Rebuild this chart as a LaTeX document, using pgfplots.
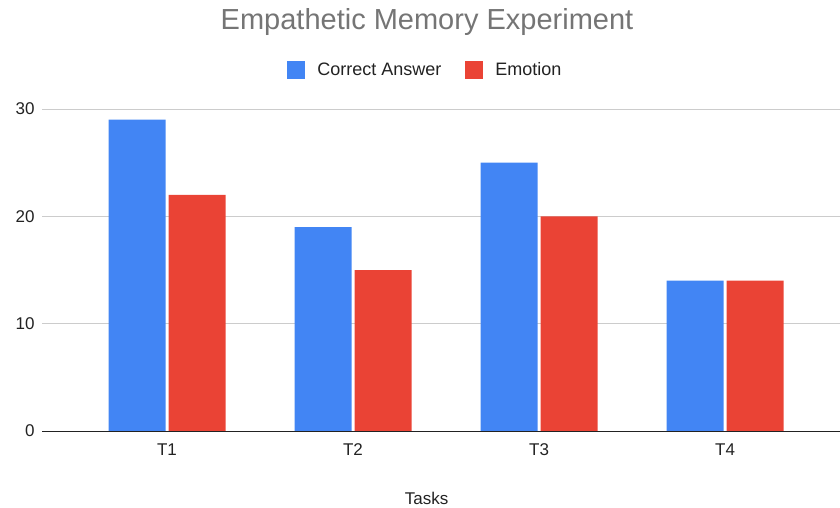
\documentclass[border=0pt]{standalone}
\usepackage{pgfplots}
\pgfplotsset{compat=1.18}
\usepackage{fontspec}
\setmainfont{Liberation Sans}
\definecolor{gblue}{HTML}{4285F4}
\definecolor{gred}{HTML}{EA4335}
\definecolor{ggrid}{HTML}{CCCCCC}
\definecolor{gtitle}{HTML}{757575}
\definecolor{gtext}{HTML}{222222}
\begin{document}
\begin{tikzpicture}
\useasboundingbox (0,0) rectangle (840pt,507pt);
\begin{axis}[
  at={(42pt,76pt)}, anchor=south west,
  scale only axis, width=798pt, height=322pt,
  ymin=0, ymax=30, xmin=-0.672, xmax=3.618,
  ybar, bar width=57pt,
  xtick=data, xticklabels={T1,T2,T3,T4},
  ytick={0,10,20,30},
  ymajorgrids, grid style={ggrid, line width=0.8pt},
  axis line style={draw=none},
  major tick length=0pt,
  tick label style={font=\fontsize{17}{19}\selectfont, text=gtext},
  /pgf/number format/assume math mode=true,
  yticklabel style={anchor=east, xshift=-4pt},
  xticklabel style={anchor=center, yshift=-19pt},
  xlabel={Tasks},
  xlabel style={at={(axis description cs:0.482,0)}, anchor=center, yshift=-67pt, font=\fontsize{17}{19}\selectfont, text=gtext},
  legend style={at={(rel axis cs:0.4805,1.121)}, anchor=center, draw=none, fill=none, legend columns=2,
    font=\fontsize{18}{20}\selectfont, text=gtext,
    /tikz/every odd column/.append style={column sep=10pt},
    /tikz/every even column/.append style={column sep=22pt}},
  legend image code/.code={\fill[#1] (0pt,-9pt) rectangle (18pt,9pt);},
]
\addplot[fill=gblue, draw=none, bar shift=-30pt] coordinates {(0,29) (1,19) (2,25) (3,14)};
\addplot[fill=gred, draw=none, bar shift=30pt] coordinates {(0,22) (1,15) (2,20) (3,14)};
\legend{Correct Answer, Emotion}
\draw[gtext, line width=0.9pt] (rel axis cs:0,0) -- (rel axis cs:1,0);
\end{axis}
\node[text=gtitle, font=\fontsize{29}{34}\selectfont] at (427pt,485pt) {Empathetic Memory Experiment};
\end{tikzpicture}
\end{document}
